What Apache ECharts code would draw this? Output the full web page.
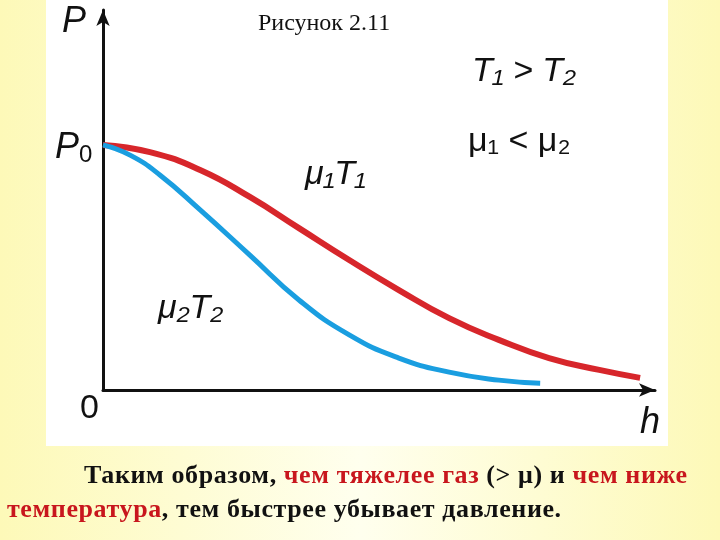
<!DOCTYPE html>
<html><head><meta charset="utf-8">
<script src="https://cdn.jsdelivr.net/npm/echarts@6/dist/echarts.min.js"></script>
<style>
html,body{margin:0;padding:0}
body{width:720px;height:540px;background:linear-gradient(90deg,#fdf9b8 0%,#ffffee 50%,#fdf9b8 100%);position:relative;overflow:hidden}
#panel{position:absolute;left:46px;top:0;width:622px;height:446px;background:#fff}
#chart{position:absolute;left:0;top:0;width:720px;height:540px}
#caption{position:absolute;left:0;top:458px;width:720px;font-family:"Liberation Serif",serif;font-weight:bold;font-size:26px;letter-spacing:0.6px;line-height:34px;color:#111;white-space:nowrap}
.r{color:#c8161d}
</style></head>
<body>
<div id="panel"></div>
<div id="chart"></div>
<div id="caption"><span style="padding-left:84px"></span>Таким образом, <span class="r">чем тяжелее газ</span> (&gt; μ) и <span class="r">чем ниже</span><br><span style="padding-left:7px"></span><span class="r">температура</span>, тем быстрее убывает давление.</div>
<script>
// values in axis units (x 0..100, y 0..100)
const redX = [0, 8.5, 17.6, 26.6, 35.5, 44.6, 53.6, 62.7, 71.7, 80.8, 89.9, 97.3];
const redY = [64.5, 62.6, 57.9, 50.8, 42.6, 34.2, 26.3, 18.9, 13.2, 8.4, 5.3, 3.2];
const blueX = [0, 4.9, 10.3, 17.6, 26.6, 35.5, 44.6, 53.6, 62.7, 71.7, 79.2];
const blueY = [64.5, 61.8, 56.6, 47.4, 35.5, 23.7, 14.5, 8.4, 4.7, 2.6, 1.8];

const pair = (xs, ys) => xs.map((x, i) => [x, ys[i]]);
const chart = echarts.init(document.getElementById('chart'));
const serif = '"Liberation Serif", serif';
const sans = '"Liberation Sans", sans-serif';
const axisLine = {show: true, symbol: ['none', 'arrow'], symbolSize: [10, 16], lineStyle: {color: '#111', width: 3}};
chart.setOption({
  animation: false,
  grid: {left: 103, right: 65, top: 10, bottom: 150},
  xAxis: {type: 'value', min: 0, max: 100, axisLine: axisLine, axisTick: {show: false}, axisLabel: {show: false}, splitLine: {show: false}},
  yAxis: {type: 'value', min: 0, max: 100, axisLine: axisLine, axisTick: {show: false}, axisLabel: {show: false}, splitLine: {show: false}},
  series: [
    {type: 'line', data: pair(redX, redY), smooth: true, symbol: 'none', lineStyle: {color: '#d7262b', width: 6}},
    {type: 'line', data: pair(blueX, blueY), smooth: true, symbol: 'none', lineStyle: {color: '#1a9ee0', width: 5}}
  ],
  graphic: [
    {type: 'text', left: 258, top: 12, style: {text: 'Рисунок 2.11', font: '24px ' + serif, fill: '#111'}},
    {type: 'text', left: 62, top: 4, style: {text: 'P', font: 'italic 36px ' + sans, fill: '#111'}},
    {type: 'text', left: 55, top: 130, style: {rich: {a: {font: 'italic 36px ' + sans}, s: {font: '24px ' + sans, verticalAlign: 'bottom', padding: [14, 0, 0, 0]}}, text: '{a|P}{s|0}', fill: '#111'}},
    {type: 'text', left: 80, top: 392, style: {text: '0', font: '34px ' + sans, fill: '#111'}},
    {type: 'text', left: 640, top: 405, style: {text: 'h', font: 'italic 36px ' + sans, fill: '#111'}},
    {type: 'text', left: 472, top: 55, style: {text: 'T₁ > T₂', font: 'italic 34px ' + sans, fill: '#111'}},
    {type: 'text', left: 468, top: 125, style: {text: 'μ₁ < μ₂', font: '34px ' + sans, fill: '#111'}},
    {type: 'text', left: 305, top: 158, style: {text: 'μ₁T₁', font: 'italic 34px ' + sans, fill: '#111'}},
    {type: 'text', left: 158, top: 292, style: {text: 'μ₂T₂', font: 'italic 34px ' + sans, fill: '#111'}}
  ]
});
</script>
</body></html>
